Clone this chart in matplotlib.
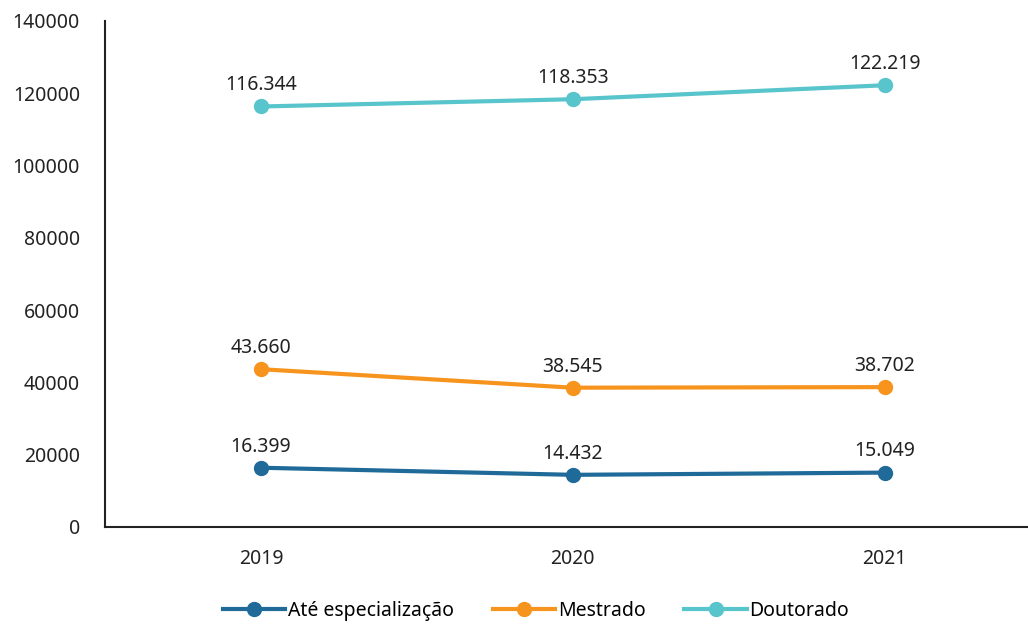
import matplotlib
matplotlib.use('Agg')
import matplotlib.pyplot as plt

# Chart data
years = ['2019', '2020', '2021']
ate_especializacao = [16399, 14432, 15049]
mestrado = [43660, 38545, 38702]
doutorado = [116344, 118353, 122219]

series = [
    ('Até especialização', ate_especializacao, '#1f6a98'),
    ('Mestrado', mestrado, '#f7941d'),
    ('Doutorado', doutorado, '#58c4cc'),
]


def fmt_br(v):
    return f'{v:,}'.replace(',', '.')


plt.rcParams['font.family'] = ['Noto Sans', 'DejaVu Sans']

fig = plt.figure(figsize=(10.28, 6.26), dpi=100)
ax = fig.add_axes([105 / 1028, 1 - 527 / 626, (1028 - 105) / 1028, (527 - 21) / 626])

x = list(range(len(years)))
for name, vals, color in series:
    ax.plot(x, vals, color=color, lw=3, marker='o', ms=10, label=name)
    for xi, v in zip(x, vals):
        ax.annotate(fmt_br(v), (xi, v), xytext=(0, 8), textcoords='offset points',
                    ha='center', va='bottom', fontsize=14, color='#222222')

ax.set_xlim(-0.5, 2.46)
ax.set_ylim(0, 140000)
ax.set_yticks(range(0, 140001, 20000))
ax.set_xticks(x)
ax.set_xticklabels(years)
ax.tick_params(length=0, labelsize=14, colors='#222222')
ax.tick_params(axis='y', pad=18)
ax.tick_params(axis='x', pad=16)
for s in ['top', 'right']:
    ax.spines[s].set_visible(False)
for s in ['left', 'bottom']:
    ax.spines[s].set_linewidth(1.5)
    ax.spines[s].set_color('#222222')

leg = fig.legend(loc='center', ncol=3, frameon=False,
                 fontsize=14, handlelength=3.2, columnspacing=2.0, handletextpad=0.15)
leg.set_bbox_to_anchor((536 / 1028, 1 - 611 / 626), transform=fig.transFigure)

fig.savefig('out.png', dpi=100)
